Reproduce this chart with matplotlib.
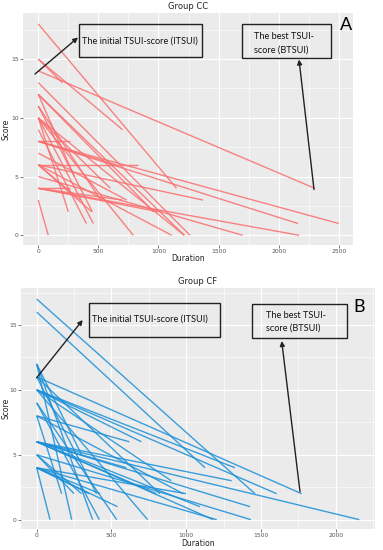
import numpy as np
import matplotlib
matplotlib.use('Agg')
import matplotlib.pyplot as plt
from matplotlib.patches import Rectangle

# Group CC: start duration, initial score, end duration, best score
cc_x0 = [0, 0, 0, 0, 0, 0, 0, 0, 0, 0, 0, 0, 0, 0, 0, 0, 0, 0, 0, 0, 0, 0, 0, 0, 0, 0, 0, 0, 0, 0, 0, 0]
cc_y0 = [18, 15, 14, 15, 13, 12, 12, 11, 10, 10, 10, 10, 9, 8, 8, 8, 8, 7, 6, 6, 6, 6, 5, 6, 4, 4, 4, 4, 3, 12, 10, 11]
cc_x1 = [1150, 700, 2300, 200, 1262, 1215, 960, 450, 790, 458, 250, 600, 400, 265, 2500, 2160, 650, 735, 830, 1370, 1110, 350, 1700, 444, 265, 2170, 1000, 700, 83, 300, 1215, 520]
cc_y1 = [4, 9, 4, 13, 0, 0, 2, 2, 0, 1, 2, 4, 1, 8, 1, 1, 6, 3, 6, 3, 0, 3, 0, 2, 4, 0, 2, 3, 0, 5, 0, 3]

# Group CF
cf_x0 = [0] * 34
cf_y0 = [17, 16, 12, 12, 11, 11, 10, 10, 10, 10, 9, 9, 8, 8, 8, 6, 6, 6, 6, 6, 6, 5, 5, 4, 4, 4, 4, 4, 11, 10, 12, 6, 5, 4]
cf_x1 = [1460, 1126, 234, 374, 1772, 824, 1605, 1326, 700, 742, 535, 419, 620, 980, 167, 2158, 1304, 1427, 1181, 600, 1092, 1433, 300, 89, 1204, 424, 1000, 540, 400, 900, 300, 800, 250, 350]
cf_y1 = [2, 4, 0, 0, 2, 2, 2, 4, 6, 0, 0, 0, 6, 2, 2, 0, 3, 1, 0, 4, 1, 0, 2, 0, 0, 2, 2, 1, 2, 3, 5, 2, 2, 2]

W, H = 383, 550


def fx(x):
    return x / W


def fy(y):
    return 1 - y / H


fig = plt.figure(figsize=(W / 100, H / 100), dpi=100)
fig.patch.set_facecolor('white')


def panel(rect, x0, y0, x1, y1, color, xlim, ylim, xticks, title, ylab_x, xlab_y):
    ax = fig.add_axes(rect)
    ax.set_facecolor('#EBEBEB')
    for a, b, c, d in zip(x0, y0, x1, y1):
        ax.plot([a, c], [b, d], color=color, lw=1.0, alpha=0.85, solid_capstyle='butt')
    ax.set_xticks(xticks)
    ax.set_yticks([0, 5, 10, 15])
    ax.set_xticks([t + 250 for t in xticks], minor=True)
    ax.set_yticks([2.5, 7.5, 12.5, 17.5], minor=True)
    ax.set_xlim(*xlim)
    ax.set_ylim(*ylim)
    ax.grid(which='major', color='white', lw=0.8)
    ax.grid(which='minor', color='white', lw=0.4)
    ax.set_axisbelow(True)
    for s in ax.spines.values():
        s.set_visible(False)
    ax.tick_params(which='major', length=2, width=0.5, color='#444444', labelsize=4.3,
                   labelcolor='#555555', pad=1.2)
    ax.tick_params(which='minor', length=0)
    ax.set_xlabel('Duration', fontsize=5.5, color='#222222', va='center')
    ax.set_ylabel('Score', fontsize=5.5, color='#222222', va='center')
    ax.yaxis.set_label_coords(ylab_x, 0.5)
    ax.xaxis.set_label_coords(0.5, xlab_y)
    ax.set_title(title, fontsize=6, pad=3, color='#222222')
    return ax


axA = panel([fx(23), fy(245), 330 / W, 232 / H], cc_x0, cc_y0, cc_x1, cc_y1, '#FA6E6E',
            (-127, 2618), (-0.83, 18.93), [0, 500, 1000, 1500, 2000, 2500], 'Group CC',
            -0.052, -0.06)
axB = panel([fx(21), fy(529), 354 / W, 241 / H], cf_x0, cf_y0, cf_x1, cf_y1, '#1A8FD8',
            (-105, 2263), (-0.72, 17.85), [0, 500, 1000, 1500, 2000], 'Group CF',
            -0.042, -0.062)


def box(x0, y0, x1, y1):
    fig.add_artist(Rectangle((fx(x0), fy(y1)), fx(x1) - fx(x0), fy(y0) - fy(y1),
                             transform=fig.transFigure, facecolor='none',
                             edgecolor='#222222', lw=1.0))


def arrow(xa, ya, xb, yb):
    fig.add_artist(matplotlib.patches.FancyArrowPatch(
        (fx(xa), fy(ya)), (fx(xb), fy(yb)), transform=fig.transFigure,
        arrowstyle='-|>', mutation_scale=7, color='#222222', lw=1.0,
        shrinkA=0, shrinkB=0))


tfont = dict(fontsize=6.6, family=['Lato', 'DejaVu Sans'], color='#111111')

# panel A annotations
box(79, 24.3, 202.3, 57.3)
fig.text(fx(81.5), fy(41), 'The initial TSUI-score (ITSUI)', va='center', ha='left', **tfont)
box(241.7, 24.3, 331, 58.3)
fig.text(fx(254), fy(36.5), 'The best TSUI-', va='center', ha='left', **tfont)
fig.text(fx(254), fy(50), 'score (BTSUI)', va='center', ha='left', **tfont)
arrow(35, 74, 78, 37.5)
arrow(314, 189.5, 299, 59.5)
fig.text(fx(340), fy(25), 'A', fontsize=13, ha='left', va='center', family=['Lato', 'DejaVu Sans'])

# panel B annotations
box(89.3, 303.3, 220, 336.7)
fig.text(fx(91.5), fy(319.5), 'The initial TSUI-score (ITSUI)', va='center', ha='left', **tfont)
box(251.7, 304.3, 346.7, 338.3)
fig.text(fx(265.5), fy(315.7), 'The best TSUI-', va='center', ha='left', **tfont)
fig.text(fx(265.5), fy(328.5), 'score (BTSUI)', va='center', ha='left', **tfont)
arrow(36.7, 377.7, 82.7, 320)
arrow(300, 491.7, 281.7, 341)
fig.text(fx(353), fy(307), 'B', fontsize=13, ha='left', va='center', family=['Lato', 'DejaVu Sans'])

fig.savefig('out.png', dpi=100)
